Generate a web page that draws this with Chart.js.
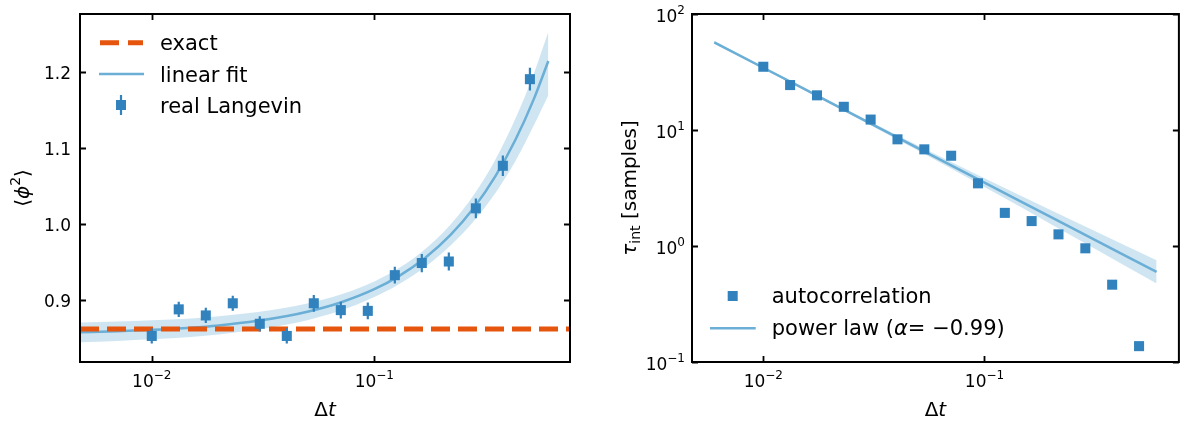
<!DOCTYPE html>
<html><head><meta charset="utf-8">
<script src="https://cdn.jsdelivr.net/npm/chart.js@4"></script>
<style>
html,body{margin:0;padding:0;background:#fff;}
#wrap{position:relative;width:1186px;height:421px;overflow:hidden;}
#c1{position:absolute;left:0;top:0;}
#c2{position:absolute;left:593px;top:0;}
</style></head><body>
<div id="wrap"><canvas id="c1" width="593" height="421"></canvas><canvas id="c2" width="593" height="421"></canvas></div>
<script>
// ---------- data ----------
const dt = [0.01, 0.01322, 0.01749, 0.02312, 0.03057, 0.04043, 0.05346, 0.07069, 0.09347, 0.1236, 0.1634, 0.2161, 0.2858, 0.3779, 0.5];
const phi2 = [0.853, 0.888, 0.880, 0.896, 0.869, 0.853, 0.896, 0.887, 0.886, 0.933, 0.949, 0.951, 1.021, 1.077, 1.191];
const phi2Err = [0.010, 0.010, 0.010, 0.010, 0.010, 0.010, 0.011, 0.011, 0.011, 0.011, 0.012, 0.012, 0.013, 0.0135, 0.015];
const exactValue = 0.862;
const fitDt = [0.00476, 0.007, 0.01, 0.015, 0.02, 0.03, 0.04, 0.05, 0.07, 0.1, 0.13, 0.17, 0.22, 0.28, 0.35, 0.43, 0.52, 0.605];
const fitPhi2 = [0.8578, 0.8592, 0.8610, 0.8639, 0.8669, 0.8729, 0.8788, 0.8848, 0.8967, 0.9145, 0.9324, 0.9562, 0.9859, 1.0216, 1.0633, 1.1109, 1.1644, 1.2150];
const fitUpper = [0.8708, 0.8720, 0.8735, 0.8761, 0.8788, 0.8844, 0.8900, 0.8958, 0.9073, 0.9248, 0.9430, 0.9679, 0.9996, 1.0388, 1.0853, 1.1389, 1.1979, 1.2535];
const fitLower = [0.8448, 0.8464, 0.8485, 0.8517, 0.8550, 0.8614, 0.8676, 0.8738, 0.8861, 0.9042, 0.9218, 0.9445, 0.9722, 1.0044, 1.0413, 1.0829, 1.1299, 1.1700];

const tauInt = [35.1, 24.4, 19.9, 15.85, 12.3, 8.31, 6.81, 6.0, 3.47, 1.93, 1.64, 1.26, 0.955, 0.464, 0.137];
const powDt = [0.006, 0.01, 0.015, 0.02, 0.03, 0.05, 0.07, 0.1, 0.15, 0.2, 0.3, 0.45, 0.6];
const powTau = [57.0, 34.4, 23.03, 17.32, 11.59, 6.99, 5.01, 3.52, 2.356, 1.772, 1.186, 0.794, 0.5975];
const powUpper = [58.6, 35.2, 23.57, 17.76, 11.97, 7.34, 5.34, 3.83, 2.643, 2.034, 1.410, 0.977, 0.752];
const powLower = [55.4, 33.6, 22.51, 16.89, 11.22, 6.66, 4.70, 3.23, 2.100, 1.543, 0.998, 0.645, 0.4746];

const xTickVals = [0.01, 0.1];
const xTickExps = ['\u22122', '\u22121'];
const leftYTickVals = [0.9, 1.0, 1.1, 1.2];
const leftYTickLabels = ['0.9', '1.0', '1.1', '1.2'];
const rightYTickVals = [0.1, 1, 10, 100];
const rightYTickExps = ['\u22121', '0', '1', '2'];

const xMin = 0.00476, xMax = 0.757;
const leftYMin = 0.8187, leftYMax = 1.2768;

// ---------- helpers ----------
const FONT = '"DejaVu Sans", "Noto Sans", sans-serif';
const C_PT = '#3182bd', C_FIT = '#6baed6', C_BAND = 'rgba(107,174,214,0.32)', C_EXACT = '#e6550d';
const zip = (xs, ys) => xs.map((x, i) => ({x: x, y: ys[i]}));

function runsWidth(ctx, runs) {
  let w = 0;
  for (const r of runs) { ctx.font = (r.it ? 'italic ' : '') + r.s + 'px ' + FONT; w += ctx.measureText(r.t).width; }
  return w;
}
function rich(ctx, runs, x, y, align, rot) {
  ctx.save();
  ctx.translate(x, y);
  if (rot) ctx.rotate(-Math.PI / 2);
  const w = runsWidth(ctx, runs);
  let cx = align === 'center' ? -w / 2 : (align === 'right' ? -w : 0);
  ctx.fillStyle = '#000';
  ctx.textBaseline = 'alphabetic';
  ctx.textAlign = 'left';
  for (const r of runs) {
    ctx.font = (r.it ? 'italic ' : '') + r.s + 'px ' + FONT;
    ctx.fillText(r.t, cx, r.dy || 0);
    cx += ctx.measureText(r.t).width;
  }
  ctx.restore();
}
function frame(ctx, ca, xs, ys, xVals, yVals) {
  ctx.save();
  ctx.strokeStyle = '#000';
  ctx.lineWidth = 2;
  ctx.strokeRect(ca.left, ca.top, ca.right - ca.left, ca.bottom - ca.top);
  ctx.lineWidth = 1.8;
  ctx.beginPath();
  for (const v of xVals) {
    const p = Math.round(xs.getPixelForValue(v)) + 0.5;
    ctx.moveTo(p, ca.bottom); ctx.lineTo(p, ca.bottom - 6);
    ctx.moveTo(p, ca.top); ctx.lineTo(p, ca.top + 6);
  }
  for (const v of yVals) {
    const p = Math.round(ys.getPixelForValue(v)) + 0.5;
    ctx.moveTo(ca.left, p); ctx.lineTo(ca.left + 6, p);
    ctx.moveTo(ca.right, p); ctx.lineTo(ca.right - 6, p);
  }
  ctx.stroke();
  ctx.restore();
}
function xTickLabels(ctx, ca, xs) {
  xTickVals.forEach((v, i) => {
    rich(ctx, [{t: '10', s: 17}, {t: xTickExps[i], s: 12, dy: -8}], xs.getPixelForValue(v), ca.bottom + 25, 'center');
  });
}
function noAxis(extra) {
  return Object.assign({display: true, grid: {display: false}, border: {display: false}, ticks: {display: false}}, extra);
}

// ---------- left chart ----------
const leftPlugin = {
  id: 'leftDecor',
  afterDatasetsDraw(chart) {
    const ctx = chart.ctx, ca = chart.chartArea, xs = chart.scales.x, ys = chart.scales.y;
    // error bars
    ctx.save();
    ctx.beginPath(); ctx.rect(ca.left, ca.top, ca.right - ca.left, ca.bottom - ca.top); ctx.clip();
    ctx.strokeStyle = C_PT; ctx.lineWidth = 2.2;
    ctx.beginPath();
    dt.forEach((x, i) => {
      const px = xs.getPixelForValue(x);
      ctx.moveTo(px, ys.getPixelForValue(phi2[i] - phi2Err[i]));
      ctx.lineTo(px, ys.getPixelForValue(phi2[i] + phi2Err[i]));
    });
    ctx.stroke();
    ctx.restore();
  },
  afterDraw(chart) {
    const ctx = chart.ctx, ca = chart.chartArea, xs = chart.scales.x, ys = chart.scales.y;
    frame(ctx, ca, xs, ys, xTickVals, leftYTickVals);
    xTickLabels(ctx, ca, xs);
    leftYTickVals.forEach((v, i) => {
      rich(ctx, [{t: leftYTickLabels[i], s: 17}], ca.left - 9, ys.getPixelForValue(v) + 6.5, 'right');
    });
    // axis labels
    rich(ctx, [{t: '\u0394', s: 20}, {t: 't', s: 20, it: true}], (ca.left + ca.right) / 2, 416, 'center');
    rich(ctx, [{t: '\u27E8', s: 20}, {t: '\u03D5', s: 20, it: true}, {t: '2', s: 14, dy: -9}, {t: '\u27E9', s: 20}], 29, (ca.top + ca.bottom) / 2, 'center', true);
    // legend
    ctx.save();
    ctx.lineCap = 'butt';
    ctx.strokeStyle = C_EXACT; ctx.lineWidth = 5; ctx.setLineDash([19, 9]);
    ctx.beginPath(); ctx.moveTo(100, 42.7); ctx.lineTo(143, 42.7); ctx.stroke();
    ctx.setLineDash([]);
    ctx.strokeStyle = C_FIT; ctx.lineWidth = 2.5;
    ctx.beginPath(); ctx.moveTo(99, 74); ctx.lineTo(144, 74); ctx.stroke();
    ctx.strokeStyle = C_PT; ctx.lineWidth = 2.2;
    ctx.beginPath(); ctx.moveTo(121, 95); ctx.lineTo(121, 115); ctx.stroke();
    ctx.fillStyle = C_PT; ctx.fillRect(116, 100, 10, 10);
    ctx.restore();
    rich(ctx, [{t: 'exact', s: 21}], 160, 50, 'left');
    rich(ctx, [{t: 'linear fit', s: 21}], 160, 81.7, 'left');
    rich(ctx, [{t: 'real Langevin', s: 21}], 160, 113.3, 'left');
  }
};

new Chart(document.getElementById('c1'), {
  type: 'scatter',
  data: {
    datasets: [
      {label: 'real Langevin', data: zip(dt, phi2), showLine: false, pointStyle: 'rect', pointRadius: 7.1, pointBackgroundColor: C_PT, pointBorderWidth: 0, order: 0},
      {label: 'exact', data: [{x: xMin, y: exactValue}, {x: xMax, y: exactValue}], showLine: true, borderColor: C_EXACT, borderWidth: 5, borderDash: [19, 8], pointRadius: 0, order: 1},
      {label: 'linear fit', data: zip(fitDt, fitPhi2), showLine: true, borderColor: C_FIT, borderWidth: 2.5, pointRadius: 0, cubicInterpolationMode: 'monotone', order: 2},
      {label: 'band upper', data: zip(fitDt, fitUpper), showLine: true, borderWidth: 0, borderColor: 'rgba(0,0,0,0)', pointRadius: 0, cubicInterpolationMode: 'monotone', fill: false, order: 3},
      {label: 'band lower', data: zip(fitDt, fitLower), showLine: true, borderWidth: 0, borderColor: 'rgba(0,0,0,0)', pointRadius: 0, cubicInterpolationMode: 'monotone', fill: '-1', backgroundColor: C_BAND, order: 4}
    ]
  },
  options: {
    responsive: false, animation: false, devicePixelRatio: 1,
    layout: {padding: {left: 0, right: 23, top: 14, bottom: 0}},
    plugins: {legend: {display: false}, tooltip: {enabled: false}},
    scales: {
      x: noAxis({type: 'logarithmic', min: xMin, max: xMax, afterFit: s => { s.height = 59; }}),
      y: noAxis({type: 'linear', min: leftYMin, max: leftYMax, afterFit: s => { s.width = 80; }})
    }
  },
  plugins: [leftPlugin]
});

// ---------- right chart ----------
const rightPlugin = {
  id: 'rightDecor',
  afterDraw(chart) {
    const ctx = chart.ctx, ca = chart.chartArea, xs = chart.scales.x, ys = chart.scales.y;
    frame(ctx, ca, xs, ys, xTickVals, rightYTickVals);
    xTickLabels(ctx, ca, xs);
    rightYTickVals.forEach((v, i) => {
      rich(ctx, [{t: '10', s: 17}, {t: rightYTickExps[i], s: 12, dy: -8}], ca.left - 7, ys.getPixelForValue(v) + 8, 'right');
    });
    rich(ctx, [{t: '\u0394', s: 20}, {t: 't', s: 20, it: true}], (ca.left + ca.right) / 2, 416, 'center');
    rich(ctx, [{t: '\u03C4', s: 20, it: true}, {t: 'int', s: 14, dy: 4}, {t: ' [samples]', s: 20}], 43, (ca.top + ca.bottom) / 2, 'center', true);
    // legend
    ctx.save();
    ctx.fillStyle = C_PT; ctx.fillRect(134.7, 291, 10, 10);
    ctx.strokeStyle = C_FIT; ctx.lineWidth = 2.5;
    ctx.beginPath(); ctx.moveTo(117, 328.3); ctx.lineTo(162.7, 328.3); ctx.stroke();
    ctx.restore();
    rich(ctx, [{t: 'autocorrelation', s: 21}], 178.7, 303.3, 'left');
    rich(ctx, [{t: 'power law (', s: 21}, {t: '\u03B1', s: 21, it: true}, {t: '= \u22120.99)', s: 21}], 178.7, 335, 'left');
  }
};

new Chart(document.getElementById('c2'), {
  type: 'scatter',
  data: {
    datasets: [
      {label: 'autocorrelation', data: zip(dt, tauInt), showLine: false, pointStyle: 'rect', pointRadius: 7.1, pointBackgroundColor: C_PT, pointBorderWidth: 0, order: 0},
      {label: 'power law', data: zip(powDt, powTau), showLine: true, borderColor: C_FIT, borderWidth: 2.5, pointRadius: 0, order: 1},
      {label: 'band upper', data: zip(powDt, powUpper), showLine: true, borderWidth: 0, borderColor: 'rgba(0,0,0,0)', pointRadius: 0, fill: false, order: 2},
      {label: 'band lower', data: zip(powDt, powLower), showLine: true, borderWidth: 0, borderColor: 'rgba(0,0,0,0)', pointRadius: 0, fill: '-1', backgroundColor: C_BAND, order: 3}
    ]
  },
  options: {
    responsive: false, animation: false, devicePixelRatio: 1,
    layout: {padding: {left: 0, right: 5, top: 14, bottom: 0}},
    plugins: {legend: {display: false}, tooltip: {enabled: false}},
    scales: {
      x: noAxis({type: 'logarithmic', min: xMin, max: xMax, afterFit: s => { s.height = 59; }}),
      y: noAxis({type: 'logarithmic', min: 0.1, max: 100, afterFit: s => { s.width = 99; }})
    }
  },
  plugins: [rightPlugin]
});
</script>
</body></html>
